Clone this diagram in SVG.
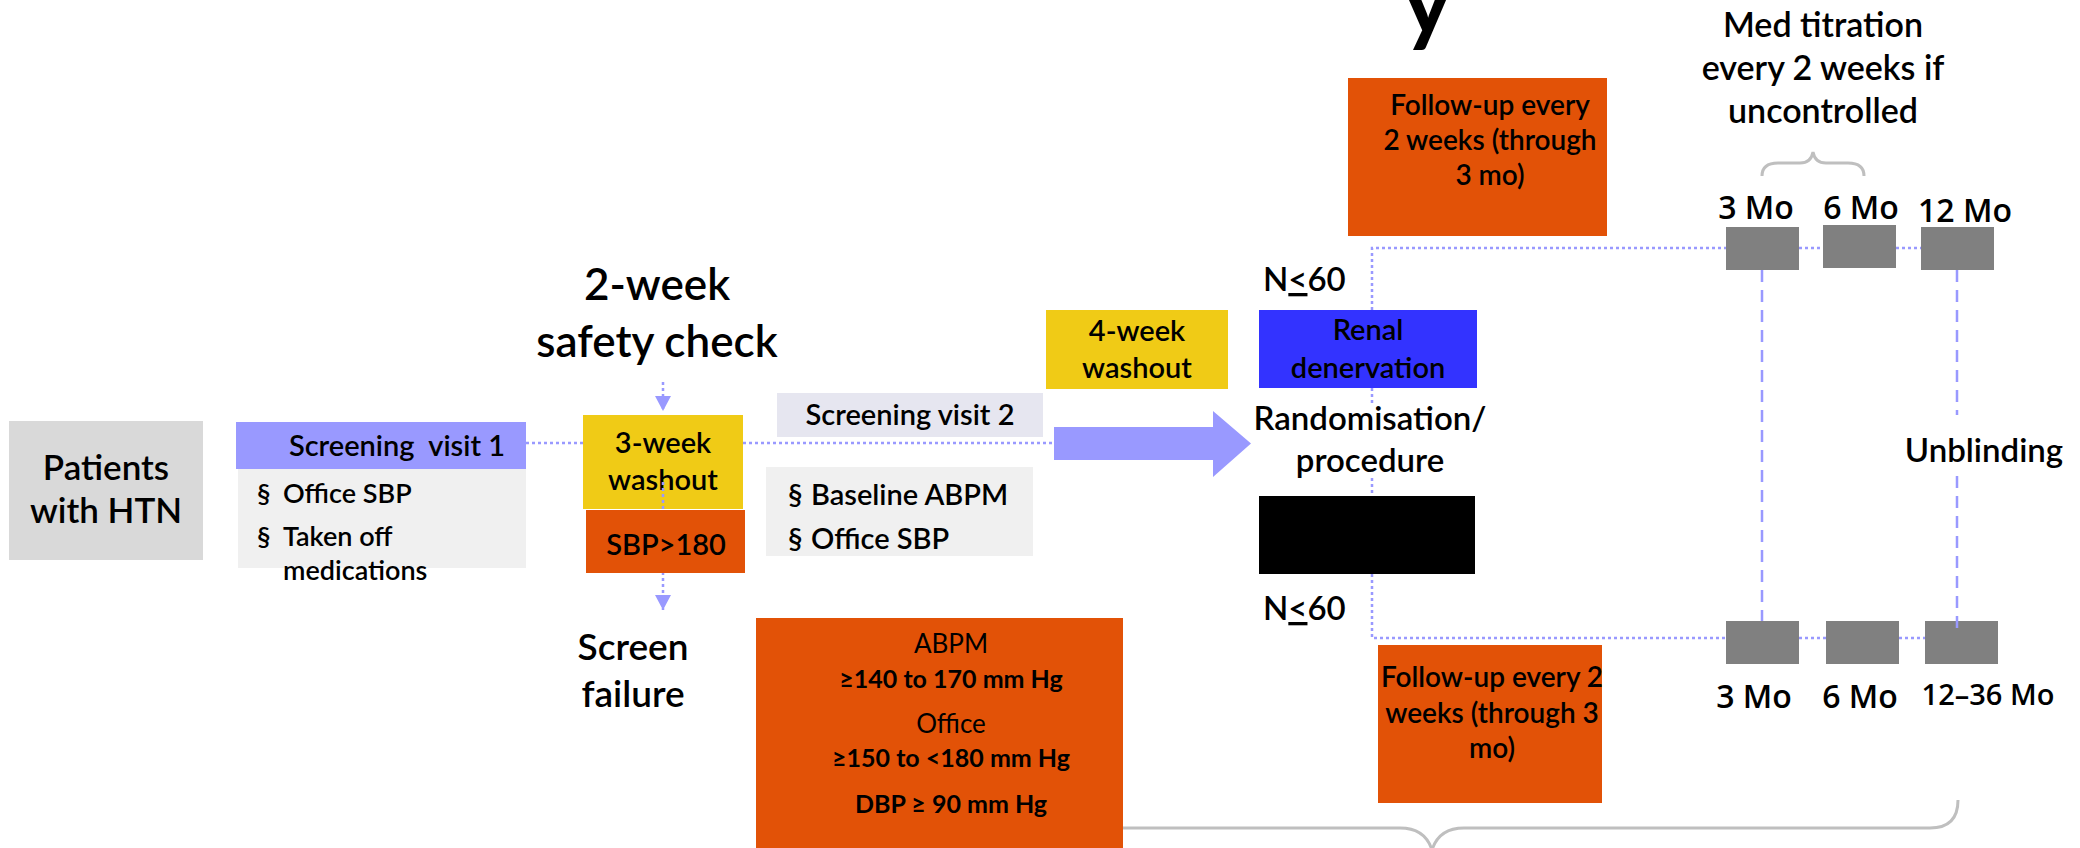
<svg xmlns="http://www.w3.org/2000/svg" width="2080" height="848" viewBox="0 0 2080 848">
<style>
.t{font-family:Lato,"Liberation Sans",sans-serif;font-weight:600;fill:#000}
.r{font-weight:400}
.b{font-weight:700}
.o{font-family:"Open Sans","Liberation Sans",sans-serif;font-weight:600;fill:#000}
.c{text-anchor:middle}
.pre{white-space:pre}
.dot{stroke:#9999ff;stroke-width:2.5;stroke-dasharray:3 3;fill:none}
.dash{stroke:#9999ff;stroke-width:2.5;stroke-dasharray:12 8;fill:none}
.brace{stroke:#bfbfbf;stroke-width:3;fill:none}
.or{fill:#e25207}
.ye{fill:#f0cb16}
.gb{fill:#808080}
.lt{fill:#f0f0f0}
</style>
<defs>
<marker id="ah" markerUnits="userSpaceOnUse" markerWidth="16" markerHeight="16" refX="15" refY="8" orient="auto" viewBox="0 0 16 16">
<path d="M0,0 L15,8 L0,16 z" fill="#9999ff"/>
</marker>
</defs>
<rect width="2080" height="848" fill="#ffffff"/>

<text class="t b" x="1402" y="34" font-size="96">y</text>

<g id="brace-bottom"><path class="brace" d="M1096 800 Q1096 828 1124 828 L1400 828 Q1425 828 1432 850 Q1439 828 1464 828 L1930 828 Q1958 828 1958 800"/></g>
<g id="brace-top"><path class="brace" d="M1762 176 Q1762 163 1778 163 L1800 163 Q1811 163 1813 152 Q1815 163 1826 163 L1848 163 Q1864 163 1864 176"/></g>

<g id="patients"><rect x="9" y="421" width="194" height="139" fill="#d9d9d9"/>
<text class="t c" x="106" y="480" font-size="35">Patients</text>
<text class="t c" x="106" y="523" font-size="35">with HTN</text></g>

<g id="screening1"><rect x="236" y="422" width="290" height="47" fill="#9999ff"/>
<text class="t c pre" x="397" y="456" font-size="29">Screening  visit 1</text>
<rect class="lt" x="238" y="469" width="288" height="99"/>
<text class="t" font-size="27"><tspan x="257" y="503">§</tspan><tspan x="283" y="503">Office SBP</tspan></text>
<text class="t" font-size="27"><tspan x="257" y="546">§</tspan><tspan x="283" y="546">Taken off</tspan><tspan x="283" y="580">medications</tspan></text></g>

<g id="safety-check"><text class="t c" x="657" y="300" font-size="44">2-week</text>
<text class="t c" x="657" y="357" font-size="44">safety check</text></g>

<g id="washout3"><rect class="ye" x="583" y="415" width="160" height="94"/>
<text class="t c" x="663" y="453" font-size="29">3-week</text>
<text class="t c" x="663" y="490" font-size="29">washout</text></g>

<g id="connectors">
<line class="dot" x1="526" y1="443" x2="583" y2="443"/>
<line class="dot" x1="743" y1="443" x2="1054" y2="443"/>
<line class="dot" x1="663" y1="382" x2="663" y2="411" marker-end="url(#ah)"/>
<line class="dot" x1="663" y1="482" x2="663" y2="610" marker-end="url(#ah)"/>
<path d="M1054 427 L1213 427 L1213 411 L1251 443.5 L1213 477 L1213 460 L1054 460 Z" fill="#9999ff"/>
<polyline class="dot" points="1372,310 1372,248 1726,248"/>
<line class="dot" x1="1799" y1="248" x2="1823" y2="248"/>
<line class="dot" x1="1896" y1="248" x2="1921" y2="248"/>
<line class="dot" x1="1372" y1="388" x2="1372" y2="496"/>
<polyline class="dot" points="1372,574 1372,638 1726,638"/>
<line class="dot" x1="1799" y1="638" x2="1826" y2="638"/>
<line class="dot" x1="1899" y1="638" x2="1925" y2="638"/>
<line class="dash" x1="1762" y1="270" x2="1762" y2="621"/>
<line class="dash" x1="1957" y1="270" x2="1957" y2="415"/>
</g>

<g id="sbp180"><rect class="or" x="586" y="510" width="159" height="63"/>
<text class="t c" x="666" y="555" font-size="29">SBP&gt;180</text></g>

<g id="screen-failure"><text class="t c" x="633" y="660" font-size="37">Screen</text>
<text class="t c" x="633" y="707" font-size="37">failure</text></g>

<g id="screening2"><rect x="777" y="393" width="266" height="44" fill="#e6e6f0"/>
<text class="t c" x="910" y="425" font-size="29">Screening visit 2</text></g>

<g id="baseline"><rect class="lt" x="766" y="467" width="267" height="89"/>
<text class="t" font-size="29"><tspan x="788" y="505">§</tspan><tspan x="811" y="505">Baseline ABPM</tspan></text>
<text class="t" font-size="29"><tspan x="788" y="549">§</tspan><tspan x="811" y="549">Office SBP</tspan></text></g>

<g id="washout4"><rect class="ye" x="1046" y="310" width="182" height="79"/>
<text class="t c" x="1137" y="341" font-size="29">4-week</text>
<text class="t c" x="1137" y="378" font-size="29">washout</text></g>

<g id="criteria"><rect class="or" x="756" y="618" width="367" height="232"/>
<text class="t c r" x="951" y="653" font-size="26">ABPM</text>
<text class="t c b" x="951" y="688" font-size="25">≥140 to 170 mm Hg</text>
<text class="t c r" x="951" y="733" font-size="26">Office</text>
<text class="t c b" x="951" y="767" font-size="25">≥150 to &lt;180 mm Hg</text>
<text class="t c b" x="951" y="813" font-size="25">DBP ≥ 90 mm Hg</text></g>

<g id="n-top"><text class="t" x="1263" y="291" font-size="33">N<tspan text-decoration="underline">&lt;</tspan>60</text></g>

<g id="renal"><rect x="1259" y="310" width="218" height="78" fill="#3333ff"/>
<text class="t c" x="1368" y="340" font-size="29">Renal</text>
<text class="t c" x="1368" y="378" font-size="29">denervation</text></g>

<g id="randomisation"><rect x="1253" y="404" width="240" height="72" fill="#ffffff"/>
<text class="t c" x="1370" y="430" font-size="33">Randomisation/</text>
<text class="t c" x="1370" y="472" font-size="33">procedure</text></g>

<g id="sham"><rect x="1259" y="496" width="216" height="78" fill="#000000"/></g>

<g id="n-bottom"><text class="t" x="1263" y="620" font-size="33">N<tspan text-decoration="underline">&lt;</tspan>60</text></g>

<g id="followup-top"><rect class="or" x="1348" y="78" width="259" height="158"/>
<text class="t c" x="1490" y="115" font-size="28">Follow-up every</text>
<text class="t c" x="1490" y="150" font-size="28">2 weeks (through</text>
<text class="t c" x="1490" y="185" font-size="28">3 mo)</text></g>

<g id="followup-bottom"><rect class="or" x="1378" y="645" width="224" height="158"/>
<text class="t c" x="1492" y="687" font-size="28">Follow-up every 2</text>
<text class="t c" x="1492" y="723" font-size="28">weeks (through 3</text>
<text class="t c" x="1492" y="758" font-size="28">mo)</text></g>

<g id="med-titration"><text class="t c" x="1823" y="37" font-size="34">Med titration</text>
<text class="t c" x="1823" y="80" font-size="34">every 2 weeks if</text>
<text class="t c" x="1823" y="123" font-size="34">uncontrolled</text></g>

<g id="top-3mo"><rect class="gb" x="1726" y="227" width="73" height="43"/><text class="o c" x="1756" y="219" font-size="32">3 Mo</text></g>
<g id="top-6mo"><rect class="gb" x="1823" y="225" width="73" height="43"/><text class="o c" x="1861" y="219" font-size="32">6 Mo</text></g>
<g id="top-12mo"><rect class="gb" x="1921" y="227" width="73" height="43"/><text class="o c" x="1965" y="222" font-size="32">12 Mo</text></g>

<g id="bot-3mo"><rect class="gb" x="1726" y="621" width="73" height="43"/><text class="o c" x="1754" y="708" font-size="32">3 Mo</text></g>
<g id="bot-6mo"><rect class="gb" x="1826" y="621" width="73" height="43"/><text class="o c" x="1860" y="708" font-size="32">6 Mo</text></g>
<g id="bot-12mo"><rect class="gb" x="1925" y="621" width="73" height="43"/><text class="o c" x="1988" y="705" font-size="29">12–36 Mo</text></g>

<g id="unblinding-line"><line class="dash" x1="1957" y1="476" x2="1957" y2="636"/></g>
<g id="unblinding"><text class="t c" x="1984" y="462" font-size="33">Unblinding</text></g>
</svg>
